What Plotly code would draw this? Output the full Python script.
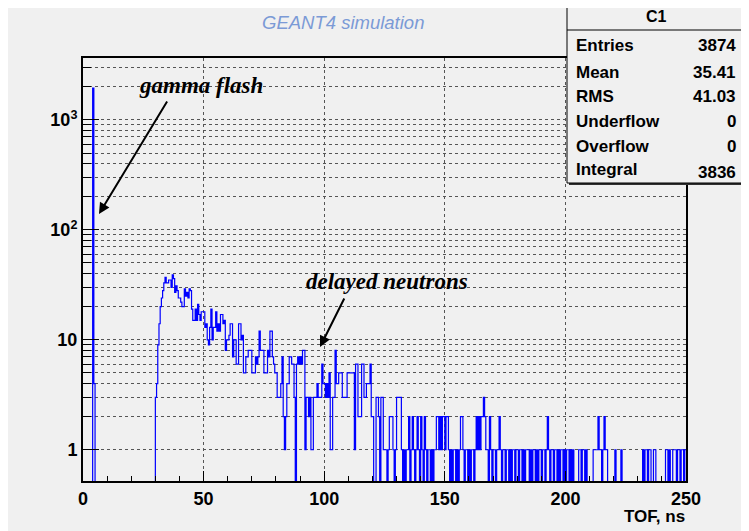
"""ROOT-style TOF histogram (GEANT4 simulation) redrawn with Plotly."""

import plotly.graph_objects as go

# --- data: counts per 0.5 ns bin, 0..250 ns -------------------------------
BIN_WIDTH = 0.5
TOF_MIN = 0.0

counts_0_50 = [
    0, 0, 0, 0, 0, 0, 0, 0, 1950, 4, 0, 0, 0, 0, 0, 0, 0, 0, 0, 0,
    0, 0, 0, 0, 0, 0, 0, 0, 0, 0, 0, 0, 0, 0, 0, 0, 0, 0, 0, 0,
    0, 0, 0, 0, 0, 0, 0, 0, 0, 0, 0, 0, 0, 0, 0, 0, 0, 0, 0, 0,
    3, 4, 9, 14, 20, 24, 28, 33, 37, 33, 33, 35, 35, 30, 39, 36, 27, 31, 28, 24,
    24, 22, 20, 20, 29, 25, 27, 24, 29, 28, 19, 15, 15, 19, 15, 21, 17, 15, 18, 18,
]
counts_50_100 = [
    18, 13, 14, 10, 9, 13, 19, 10, 13, 13, 18, 12, 14, 12, 17, 17, 14, 15, 8, 10,
    10, 11, 14, 14, 7, 10, 10, 6, 6, 14, 14, 10, 11, 5, 5, 7, 7, 8, 8, 8,
    5, 5, 5, 7, 6, 7, 12, 8, 8, 8, 5, 5, 5, 8, 7, 12, 12, 7, 6, 5,
    5, 3, 3, 3, 4, 7, 2, 1, 2, 4, 4, 7, 7, 6, 6, 3, 0, 6, 7, 6,
    7, 6, 8, 8, 1, 3, 3, 2, 3, 1, 1, 3, 3, 3, 4, 3, 3, 3, 6, 4,
]
counts_100_150 = [
    4, 3, 4, 3, 5, 1, 1, 3, 3, 8, 4, 4, 5, 5, 5, 3, 3, 3, 3, 5,
    5, 5, 5, 5, 5, 1, 6, 6, 2, 2, 2, 6, 6, 3, 3, 4, 4, 4, 6, 2,
    2, 0, 0, 3, 3, 2, 0, 3, 3, 1, 1, 1, 0, 1, 2, 2, 2, 1, 0, 1,
    3, 3, 3, 3, 1, 0, 1, 0, 1, 1, 2, 0, 1, 2, 1, 0, 1, 2, 1, 0,
    2, 1, 0, 2, 1, 0, 1, 1, 0, 1, 0, 1, 1, 2, 2, 1, 2, 1, 2, 2,
]
counts_150_200 = [
    1, 2, 2, 1, 0, 1, 0, 1, 1, 0, 1, 0, 1, 2, 2, 1, 0, 1, 1, 0,
    1, 0, 1, 1, 0, 1, 2, 1, 2, 1, 2, 2, 3, 2, 1, 1, 0, 2, 1, 0,
    1, 1, 0, 1, 1, 2, 1, 0, 1, 1, 0, 1, 1, 0, 1, 0, 1, 1, 0, 1,
    1, 0, 1, 1, 0, 1, 0, 1, 1, 1, 0, 1, 0, 1, 1, 0, 1, 0, 1, 1,
    0, 1, 1, 0, 1, 2, 1, 0, 1, 1, 0, 1, 1, 0, 1, 0, 1, 1, 0, 1,
]
counts_200_250 = [
    0, 1, 1, 0, 1, 0, 1, 0, 0, 0, 0, 1, 1, 0, 1, 1, 0, 1, 0, 0,
    0, 0, 0, 1, 1, 1, 1, 2, 1, 1, 0, 1, 2, 1, 1, 0, 0, 0, 0, 0,
    0, 1, 0, 0, 0, 0, 1, 0, 0, 0, 0, 0, 0, 0, 0, 0, 0, 0, 0, 0,
    0, 0, 0, 0, 1, 0, 1, 1, 0, 1, 1, 0, 0, 1, 1, 0, 0, 0, 0, 0,
    0, 0, 0, 1, 1, 0, 1, 0, 0, 1, 1, 1, 0, 1, 1, 0, 1, 1, 0, 1,
]

x_ticks = [0, 50, 100, 150, 200, 250]
y_ticks = [1, 10, 100, 1000]
y_ticktext = ["1", "10", "10<sup>2</sup>", "10<sup>3</sup>"]

stats_title = "C1"
stats_labels = ["Entries", "Mean", "RMS", "Underflow", "Overflow", "Integral"]
stats_values = ["3874", "35.41", "41.03", "0", "0", "3836"]

# --- geometry (pixels as seen on the page; the page body adds 8 px) ---------
W_FIG, H_FIG = 749, 531
OFF = 8
L, R, T, B = 83 - OFF, 686 - OFF, 58 - OFF, 481 - OFF


def _px(x):
    return (x - OFF - L) / (R - L)


def _py(y):
    return (B - (y - OFF)) / (B - T)


def _text(text, x, y, font, xanchor="center"):
    return dict(text=text, xref="paper", yref="paper", x=_px(x), y=_py(y),
                xanchor=xanchor, yanchor="middle", showarrow=False, font=font)


counts = counts_0_50 + counts_50_100 + counts_100_150 + counts_150_200 + counts_200_250
edges = [TOF_MIN + i * BIN_WIDTH for i in range(len(counts) + 1)]
# empty bins sit below the frame like ROOT does on a log axis
y_draw = [c if c > 0 else 0.1 for c in counts]
y_draw = y_draw + [y_draw[-1]]

fig = go.Figure(go.Scatter(
    x=edges,
    y=y_draw,
    mode="lines",
    line=dict(color="#0000ff", width=1.2, shape="hv"),
    hoverinfo="skip",
    showlegend=False,
))

minor_y = [m * 10 ** k for k in range(0, 4) for m in range(2, 10) if m * 10 ** k < 4000]
minor_x = [v for v in range(10, 250, 10) if v % 50]

BG = "#f0f0f0"
tick_font = dict(family="Liberation Sans", size=18, color="black", weight="bold")

fig.update_layout(
    width=W_FIG, height=H_FIG, autosize=False,
    margin=dict(l=L, r=W_FIG - R, t=T, b=H_FIG - B),
    paper_bgcolor=BG,
    plot_bgcolor=BG,
    showlegend=False,
    xaxis=dict(
        range=[0, 250], tickvals=x_ticks, ticks="inside", ticklen=10,
        tickwidth=1, tickcolor="black", tickfont=tick_font,
        showline=True, linecolor="black", linewidth=2, mirror=True,
        showgrid=True, gridcolor="#555555", griddash="dot", gridwidth=1,
        zeroline=False,
        minor=dict(tickvals=minor_x, ticks="inside", ticklen=5,
                   tickcolor="black", showgrid=False),
    ),
    yaxis=dict(
        type="log", range=[-0.284, 3.563],
        tickvals=y_ticks, ticktext=y_ticktext, ticks="inside", ticklen=16,
        tickwidth=1, tickcolor="black", tickfont=tick_font,
        showline=True, linecolor="black", linewidth=2, mirror=True,
        showgrid=True, gridcolor="#555555", griddash="dot", gridwidth=1,
        zeroline=False,
        minor=dict(tickvals=minor_y, ticks="inside", ticklen=8,
                   tickcolor="black", showgrid=True, gridcolor="#555555",
                   griddash="dot", gridwidth=1),
    ),
)

shapes = [
    # stats box shadow + box
    dict(type="rect", xref="paper", yref="paper", layer="above",
         x0=_px(569), x1=_px(747), y0=_py(185), y1=_py(7),
         fillcolor="#303030", line=dict(width=0)),
    dict(type="rect", xref="paper", yref="paper", layer="above",
         x0=_px(567), x1=_px(745), y0=_py(183), y1=_py(5),
         fillcolor=BG, line=dict(color="black", width=1)),
    dict(type="line", xref="paper", yref="paper", layer="above",
         x0=_px(567), x1=_px(745), y0=_py(30), y1=_py(30),
         line=dict(color="black", width=1)),
]

stat_font = dict(family="Liberation Sans", size=17, color="black", weight="bold")
annotations = [
    _text("<i>GEANT4 simulation</i>", 343, 22,
          dict(family="Liberation Sans", size=18.5, color="#7b9ad6")),
    _text("<b><i>gamma flash</i></b>", 201, 85,
          dict(family="Liberation Serif", size=23, color="black")),
    _text("<b><i>delayed neutrons</i></b>", 387, 281,
          dict(family="Liberation Serif", size=23, color="black")),
    _text("<b>TOF, ns</b>", 687, 517,
          dict(family="Liberation Sans", size=17, color="black"), xanchor="right"),
    _text(f"<b>{stats_title}</b>", 656, 17,
          dict(family="Liberation Sans", size=16, color="black")),
    # arrows
    dict(text="", xref="paper", yref="paper", x=_px(99), y=_py(214),
         ax=69, ay=-114, axref="pixel", ayref="pixel", showarrow=True,
         arrowhead=2, arrowsize=1.1, arrowwidth=2, arrowcolor="black"),
    dict(text="", xref="paper", yref="paper", x=_px(320), y=_py(347),
         ax=25, ay=-50, axref="pixel", ayref="pixel", showarrow=True,
         arrowhead=2, arrowsize=1.1, arrowwidth=2, arrowcolor="black"),
]

row_y = [46, 72, 96, 121, 146, 169]
for lab, val, yy in zip(stats_labels, stats_values, row_y):
    annotations.append(_text(lab, 574, yy, stat_font, xanchor="left"))
    annotations.append(_text(val, 738, yy + (4 if lab == "Integral" else 0),
                             stat_font, xanchor="right"))

fig.update_layout(shapes=shapes, annotations=annotations)

fig.write_html("out.html")
